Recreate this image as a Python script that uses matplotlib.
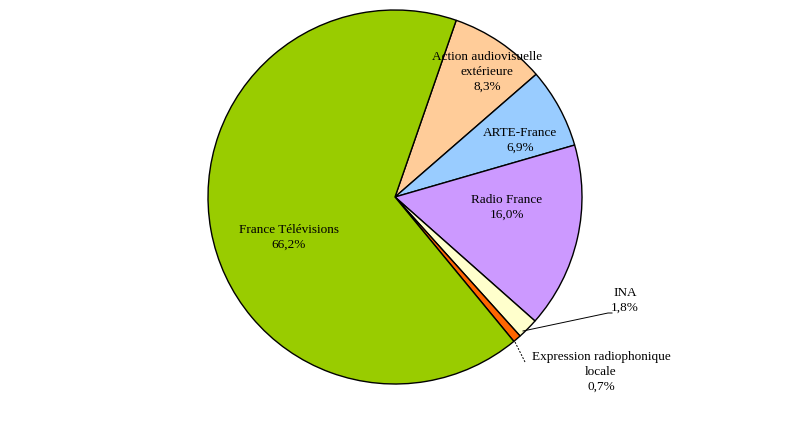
import matplotlib.pyplot as plt

labels = ["Action audiovisuelle\nextérieure", "ARTE-France", "Radio France", "INA",
          "Expression radiophonique\nlocale", "France Télévisions"]
values = [8.3, 6.9, 16.0, 1.8, 0.7, 66.2]
pct_text = ["8,3%", "6,9%", "16,0%", "1,8%", "0,7%", "66,2%"]
colors = ["#FFCC99", "#99CCFF", "#CC99FF", "#FFFFCC", "#FF6600", "#99CC00"]

# label positions in pixel coords (x, y from top)
label_pos = [(487, 72), (520, 140), (507, 207), (625, 300), (601, 372), (289, 237)]

W, H = 791, 425
fig = plt.figure(figsize=(W / 100, H / 100), dpi=100)
ax = fig.add_axes([0, 0, 1, 1])

ax.pie(values, colors=colors, startangle=70.9, counterclock=False,
       center=(395, H - 197), radius=187,
       wedgeprops=dict(edgecolor="black", linewidth=1.0))

ax.set_xlim(0, W)
ax.set_ylim(0, H)
ax.set_aspect("equal")
ax.axis("off")

for lab, p, (x, y) in zip(labels, pct_text, label_pos):
    ax.text(x, H - y, lab + "\n" + p, ha="center", va="center",
            family="Liberation Serif", fontsize=9.5, linespacing=1.3)

# leader lines
ax.plot([523, 608, 612], [H - 331, H - 313, H - 313], color="black", lw=0.7)
ax.plot([515, 525], [H - 342, H - 362], color="black", lw=0.7, ls=(0, (2, 1.5)))

fig.savefig("out.png", dpi=100)
